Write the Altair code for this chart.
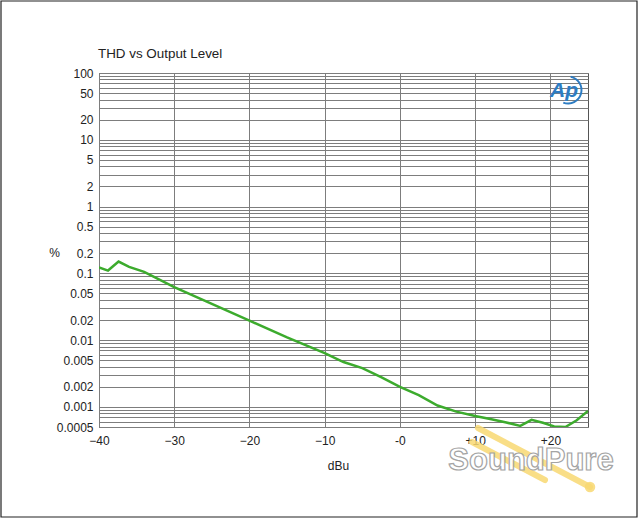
import altair as alt
import pandas as pd

# ---- data ----
dbu = [-40, -38.8, -37.4, -36, -34, -30, -25, -20, -15, -10, -7.5, -5, -2.5,
       0, 2.5, 5, 7.5, 10, 12, 14, 16, 17.5, 19, 20.5, 22, 23.5, 25]
thd = [0.123, 0.11, 0.15, 0.125, 0.105, 0.062, 0.035, 0.0196, 0.011, 0.0064,
       0.0047, 0.0038, 0.0028, 0.002, 0.0015, 0.00105, 0.00085, 0.00073,
       0.00066, 0.00059, 0.00052, 0.00064, 0.00058, 0.00051, 0.0005,
       0.00063, 0.00087]

x_ticks = [-40, -30, -20, -10, 0, 10, 20]
y_labels = ["100", "50", "20", "10", "5", "2", "1", "0.5", "0.2", "0.1",
            "0.05", "0.02", "0.01", "0.005", "0.002", "0.001", "0.0005"]

y_grid = []
for e in range(-4, 2):
    for m in range(1, 10):
        v = round(m * 10 ** e, 10)
        if 0.0005 <= v <= 100:
            y_grid.append(v)
y_grid.append(100)

df = pd.DataFrame({"dBu": dbu, "thd": thd})
one = alt.Data(values=[{}])

FONT = "Liberation Sans"
label_list = "[" + ",".join("'" + s + "'" for s in y_labels) + "]"

line = alt.Chart(df).mark_line(color="#3cab2d", strokeWidth=2.5, clip=True).encode(
    x=alt.X("dBu:Q",
            scale=alt.Scale(domain=[-40, 25], nice=False, zero=False),
            axis=alt.Axis(values=x_ticks, title="dBu", grid=True, ticks=False,
                          domain=False, labelPadding=8, labelFlush=False,
                          labelOverlap=False,
                          labelExpr="datum.value > 0 ? '+' + datum.value : (datum.value == 0 ? '-0' : datum.label)",
                          titleX=239, titleY=38, titleBaseline="middle",
                          titleFontWeight="normal")),
    y=alt.Y("thd:Q",
            scale=alt.Scale(type="log", domain=[0.0005, 100], nice=False),
            axis=alt.Axis(values=y_grid, title="%", grid=True, ticks=False,
                          domain=False, format="~g", labelPadding=6,
                          labelFlush=False, labelOverlap=False,
                          labelExpr="indexof(" + label_list + ", datum.label) >= 0 ? datum.label : ''",
                          titleAngle=0, titleX=-45, titleY=179,
                          titleAlign="center", titleBaseline="middle",
                          titleFontWeight="normal")),
)

title = alt.Chart(one).mark_text(
    text="THD vs Output Level", font=FONT, fontSize=13.4, color="#222",
    align="left", baseline="alphabetic"
).encode(x=alt.value(-1), y=alt.value(-15))

border = alt.Chart(one).mark_rect(fill=None, stroke="#222", strokeWidth=1.2).encode(
    x=alt.value(-98), x2=alt.value(538), y=alt.value(-72), y2=alt.value(444)
)

ap_text = alt.Chart(one).mark_text(
    text="Ap", font=FONT, fontSize=21, fontStyle="italic", fontWeight="bold",
    color="#2d7cc2", align="center", baseline="middle"
).encode(x=alt.value(465), y=alt.value(18))

ap_arc = alt.Chart(one).mark_arc(
    innerRadius=12.5, outerRadius=14.5, theta=0.2, theta2=3.5, color="#2d7cc2"
).encode(x=alt.value(469), y=alt.value(17))

fork1 = alt.Chart(one).mark_rule(color="#f8d872", strokeWidth=6, strokeCap="round", opacity=0.85).encode(
    x=alt.value(379), x2=alt.value(491), y=alt.value(355), y2=alt.value(414))
fork2 = alt.Chart(one).mark_rule(color="#f8d872", strokeWidth=6, strokeCap="round", opacity=0.85).encode(
    x=alt.value(373), x2=alt.value(446), y=alt.value(369), y2=alt.value(407))
fork_end = alt.Chart(one).mark_point(filled=True, color="#f8d872", size=110, opacity=0.85, shape="circle").encode(
    x=alt.value(491), y=alt.value(414))

wm = alt.Chart(one).mark_text(
    text="SoundPure", font=FONT,
    fontSize=31, fontWeight="bold", fill="white", stroke="#a0a0a0", strokeWidth=1.2,
    align="center", baseline="alphabetic", opacity=0.95
).encode(x=alt.value(432), y=alt.value(397))

chart = alt.layer(line, title, border, ap_arc, ap_text, fork1, fork2, fork_end, wm).properties(
    width=489, height=354,
    padding={"left": 99, "top": 73, "right": 52, "bottom": 93},
    autosize=alt.AutoSizeParams(type="none"),
    background="white",
).configure_view(stroke="#555", strokeWidth=1).configure_axis(
    gridColor="#7d7d7d", gridWidth=1, gridOpacity=1,
    labelFont=FONT, labelFontSize=12, labelColor="#222",
    titleFont=FONT, titleFontSize=12, titleColor="#222",
)

chart.save("out.html", embed_options={"renderer": "svg", "actions": False})
